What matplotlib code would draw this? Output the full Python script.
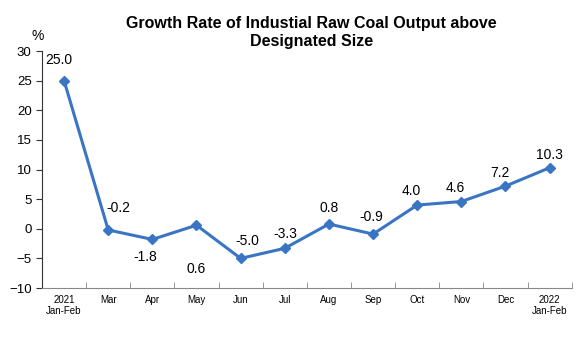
import numpy as np
import matplotlib.pyplot as plt

plt.rcParams['font.family'] = ['Liberation Sans', 'DejaVu Sans']

months = ['2021\nJan-Feb', 'Mar', 'Apr', 'May', 'Jun', 'Jul', 'Aug', 'Sep',
          'Oct', 'Nov', 'Dec', '2022\nJan-Feb']
growth = [25.0, -0.2, -1.8, 0.6, -5.0, -3.3, 0.8, -0.9, 4.0, 4.6, 7.2, 10.3]
# label offsets (pixels) for each value label
offsets = [(-5, 21), (10, 22), (-7, -18), (0, -44), (7, 17), (1, 14), (0, 16),
           (-2, 17), (-6, 14), (-6, 14), (-6, 13), (0, 13)]

fig = plt.figure(figsize=(5.77, 3.62), dpi=100)
ax = fig.add_axes([0.0728, 0.2044, 0.918, 0.6546])

x = np.arange(len(months))
ax.plot(x, growth, color='#3A75C4', lw=2.2, marker='D', ms=5)

for i, v in enumerate(growth):
    ax.annotate(f"{v:.1f}", xy=(x[i], v), xytext=offsets[i], textcoords='offset pixels',
                ha='center', va='center', fontsize=10)

ax.set_xlim(-0.5, len(months) - 0.5)
ax.set_ylim(-10, 30)
ax.set_yticks(range(-10, 31, 5))
ax.set_xticks(x)
ax.set_xticklabels(months, fontsize=7, linespacing=1.1)
ax.set_xticks(np.arange(-0.5, len(months), 1), minor=True)
ax.tick_params(axis='x', which='major', length=0, pad=5)
ax.tick_params(axis='x', which='minor', direction='in', length=4, color='#888888')
ax.tick_params(axis='y', labelsize=9.5, length=4, color='#333333')

for s in ['top', 'right']:
    ax.spines[s].set_visible(False)
ax.spines['bottom'].set_color('#888888')
ax.spines['left'].set_color('#333333')

ax.text(-0.008, 1.045, '%', transform=ax.transAxes, fontsize=10, ha='center')
fig.text(0.54, 0.955, 'Growth Rate of Industial Raw Coal Output above\nDesignated Size',
         ha='center', va='top', fontsize=11.5, fontweight='bold', linespacing=1.2)

fig.savefig('out.png', dpi=100)
